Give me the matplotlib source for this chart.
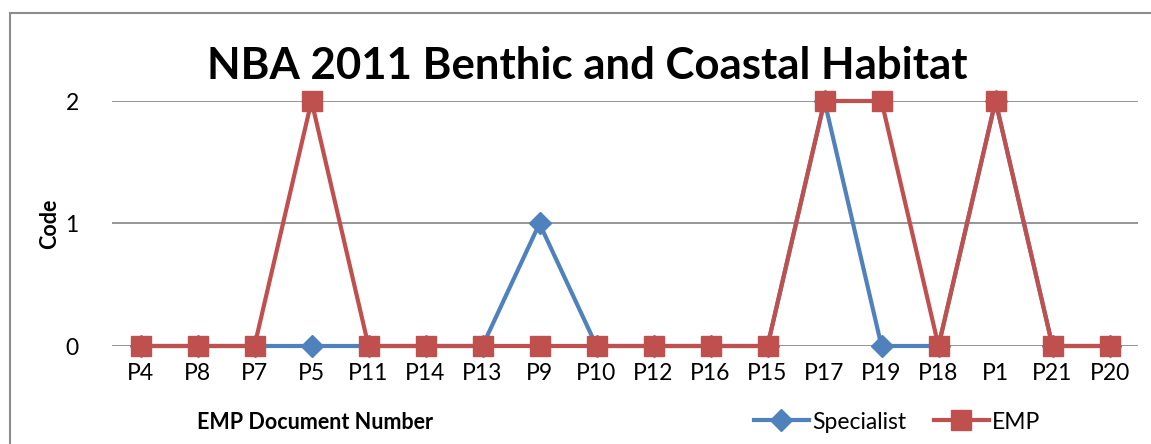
import matplotlib.pyplot as plt
from matplotlib.patches import Rectangle
from matplotlib.lines import Line2D
import numpy as np

plt.rcParams['font.family'] = ['Lato', 'DejaVu Sans']

docs = ['P4', 'P8', 'P7', 'P5', 'P11', 'P14', 'P13', 'P9', 'P10', 'P12',
        'P16', 'P15', 'P17', 'P19', 'P18', 'P1', 'P21', 'P20']
specialist = [0, 0, 0, 0, 0, 0, 0, 1, 0, 0, 0, 0, 2, 0, 0, 2, 0, 0]
emp = [0, 0, 0, 2, 0, 0, 0, 0, 0, 0, 0, 0, 2, 2, 0, 2, 0, 0]

blue = '#4F81BD'
red = '#C0504D'
W, H = 1151, 444

fig = plt.figure(figsize=(W / 100, H / 100), dpi=100)
ax = fig.add_axes([112 / W, 1 - 346 / H, (1138 - 112) / W, (346 - 101) / H])

# chart frame (right and bottom edges fall outside the picture)
fig.patches.append(Rectangle((10 / W, -0.1), 1.2, 1 - 13 / H + 0.1,
                             transform=fig.transFigure, fill=False,
                             edgecolor='#8c8c8c', lw=1.5))

x = np.arange(len(docs))
ax.plot(x, specialist, color=blue, lw=3, marker='D', ms=11,
        clip_on=False, zorder=3, label='Specialist')
ax.plot(x, emp, color=red, lw=3, marker='s', ms=14,
        clip_on=False, zorder=4, label='EMP')

ax.set_xlim(-0.5, len(docs) - 0.5)
ax.set_ylim(0, 2)
ax.set_yticks([0, 1, 2])
ax.set_xticks(x)
ax.set_xticklabels(docs)
ax.tick_params(axis='both', length=0, labelsize=16.5)
ax.tick_params(axis='x', pad=12)
ax.tick_params(axis='y', pad=24)
ax.grid(axis='y', color='#8c8c8c', lw=1.3)
ax.set_axisbelow(True)
for s in ax.spines.values():
    s.set_visible(False)

fig.text(587 / W, 1 - 66 / H, 'NBA 2011 Benthic and Coastal Habitat',
         ha='center', va='center', fontsize=31.5, fontweight='bold')
fig.text(50 / W, 1 - 224 / H, 'Code', ha='center', va='center',
         rotation=90, fontsize=15.5, fontweight='bold')
fig.text(315 / W, 1 - 422 / H, 'EMP Document Number', ha='center',
         va='center', fontsize=15.5, fontweight='bold')

handles = [Line2D([], [], color=blue, lw=3, marker='D', ms=11),
           Line2D([], [], color=red, lw=3, marker='s', ms=14)]
fig.legend(handles, ['Specialist', 'EMP'], loc='center',
           bbox_to_anchor=(897 / W, 1 - 422 / H), ncol=2, frameon=False,
           fontsize=16.5, handlelength=2.4, handletextpad=0.15,
           columnspacing=1.2)

fig.savefig('out.png', dpi=100)
